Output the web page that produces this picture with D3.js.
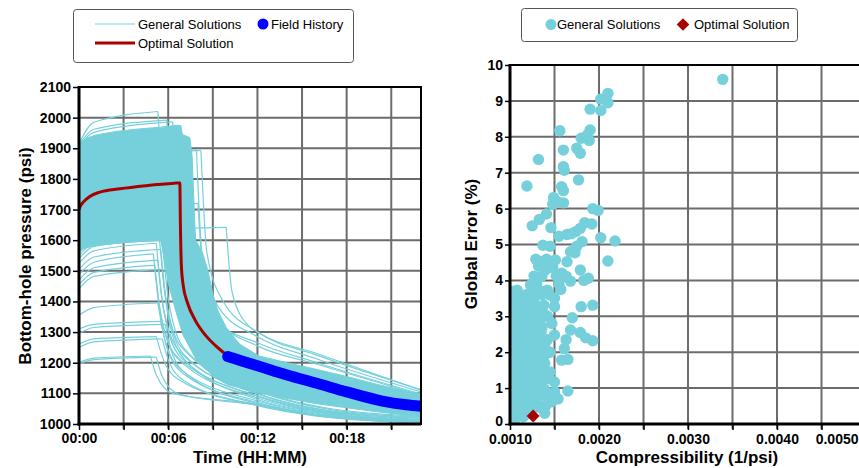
<!DOCTYPE html>
<html>
<head>
<meta charset="utf-8">
<script src="https://cdn.jsdelivr.net/npm/d3@7"></script>
<style>
body { margin: 0; background: #fff; }
svg { display: block; font-family: "Liberation Sans", Arial, sans-serif; }
</style>
</head>
<body>
<svg id="chart" width="859" height="468"></svg>
<script>
// ---------- left chart data (time in minutes, pressure in psi) ----------
var pressureTicks = [1000, 1100, 1200, 1300, 1400, 1500, 1600, 1700, 1800, 1900, 2000, 2100];
var timeTicks = [0, 6, 12, 18];

// outline of the dense bundle of general solutions
var massOutline = [
    [0, 1905], [0.15, 1920], [0.5, 1933], [1.2, 1944], [2.5, 1955], [4, 1963], [5.5, 1969],
    [6.6, 1975], [6.85, 1974], [6.95, 1945], [7.45, 1935], [7.6, 1880], [7.7, 1760],
    [7.8, 1640], [7.85, 1600], [8.3, 1560], [8.67, 1501], [9.0, 1425], [9.34, 1370],
    [9.9, 1315], [10.8, 1261], [12.1, 1222], [14, 1200], [16, 1178], [18, 1155],
    [20, 1130], [23, 1097], [23, 1024], [20, 1040], [16, 1066], [13.7, 1086], [12, 1103],
    [10, 1128], [9.2, 1150], [8, 1200], [7.0, 1290], [6.5, 1370], [6.0, 1460],
    [5.65, 1560], [5.5, 1600], [3, 1592], [1, 1582], [0.3, 1572], [0, 1560]
];

// single general solutions that stand out of the bundle
// p0, p(1 min), shut-in time, p at shut-in, p(+0.4 min), p(+1.5 min), p(12), p(16), p(23)
var generalRows = [
    [1915, 1985, 5.3, 2020, 1760, 1460, 1195, 1120, 1068],
    [1912, 1962, 5.9, 1992, 1730, 1440, 1190, 1115, 1065],
    [1908, 1952, 6.3, 1986, 1710, 1420, 1188, 1112, 1062],
    [1800, 1850, 8.2, 1893, 1560, 1400, 1300, 1225, 1112],
    [1790, 1842, 7.9, 1895, 1540, 1380, 1285, 1212, 1105],
    [1600, 1628, 9.9, 1642, 1430, 1320, 1300, 1230, 1110],
    [1700, 1742, 7.6, 1775, 1480, 1340, 1265, 1200, 1098],
    [1650, 1690, 8.0, 1720, 1470, 1330, 1255, 1195, 1094],
    [1550, 1590, 5.4, 1610, 1420, 1250, 1110, 1058, 1025],
    [1540, 1580, 5.6, 1600, 1410, 1245, 1108, 1055, 1022],
    [1525, 1565, 5.2, 1590, 1400, 1240, 1100, 1050, 1020],
    [1505, 1545, 5.5, 1570, 1390, 1230, 1098, 1048, 1018],
    [1488, 1528, 5.0, 1555, 1380, 1225, 1092, 1045, 1015],
    [1470, 1510, 5.3, 1535, 1370, 1220, 1090, 1042, 1013],
    [1455, 1495, 5.1, 1518, 1360, 1215, 1085, 1040, 1012],
    [1442, 1482, 5.6, 1505, 1350, 1210, 1080, 1038, 1010],
    [1355, 1380, 5.3, 1395, 1290, 1180, 1075, 1035, 1010],
    [1310, 1325, 5.5, 1335, 1250, 1165, 1070, 1032, 1008],
    [1295, 1315, 5.8, 1325, 1240, 1160, 1066, 1030, 1006],
    [1261, 1278, 5.2, 1285, 1220, 1145, 1062, 1028, 1005],
    [1250, 1268, 5.6, 1278, 1210, 1140, 1060, 1026, 1004],
    [1201, 1215, 4.8, 1222, 1160, 1100, 1065, 1030, 1005],
    [1196, 1210, 5.2, 1218, 1155, 1098, 1062, 1028, 1003]
];

var optimalT = [0, 0.1, 0.3, 0.7, 1.4, 2.75, 4.5, 6.4, 6.78, 6.82, 6.88, 7.0, 7.3, 7.8, 8.5, 9.2, 9.8, 10.0];
var optimalP = [1700, 1712, 1725, 1742, 1757, 1768, 1778, 1786, 1787, 1650, 1520, 1455, 1395, 1340, 1290, 1255, 1230, 1222];

var fieldT = [10, 11, 12, 13, 14, 16, 18, 20.4, 22, 23];
var fieldP = [1220, 1205, 1190, 1175, 1160, 1133, 1105, 1075, 1063, 1058];

// ---------- right chart data ----------
var errorTicks = [0, 1, 2, 3, 4, 5, 6, 7, 8, 9, 10];
var compTicks = [0.001, 0.002, 0.003, 0.004, 0.005];

var genC = [
    0.00339, 0.00210, 0.00202, 0.00210, 0.00190, 0.00202, 0.00156, 0.00190, 0.00187, 0.00180,
    0.00189, 0.00175, 0.00179, 0.00160, 0.00132, 0.00160, 0.00161, 0.00177, 0.00119, 0.00158,
    0.00160, 0.00149, 0.00153, 0.00160, 0.00148, 0.00193, 0.00199, 0.00141, 0.00133, 0.00125,
    0.00146, 0.00184, 0.00192, 0.00179, 0.00174, 0.00169, 0.00164, 0.00155, 0.00218, 0.00202,
    0.00181, 0.00175, 0.00137, 0.00145, 0.00168, 0.00173, 0.00210, 0.00129, 0.00134, 0.00141,
    0.00151, 0.00164, 0.00132, 0.00179, 0.00148, 0.00158, 0.00163, 0.00188, 0.00183, 0.00127,
    0.00136, 0.00152, 0.00168, 0.00157, 0.00108, 0.00123, 0.00132, 0.00142, 0.00150, 0.00111,
    0.00118, 0.00127, 0.00138, 0.00150, 0.00180, 0.00193, 0.00102, 0.00116, 0.00129, 0.00140,
    0.00170, 0.00104, 0.00113, 0.00124, 0.00135, 0.00150, 0.00168, 0.00179, 0.00185, 0.00193,
    0.00163, 0.00105, 0.00126, 0.00136, 0.00161, 0.00109, 0.00122, 0.00139, 0.00158, 0.00165,
    0.00102, 0.00113, 0.00128, 0.00139, 0.00108, 0.00121, 0.00132, 0.00143, 0.00150, 0.00102,
    0.00112, 0.00125, 0.00139, 0.00165, 0.00150, 0.00154, 0.00147, 0.00104, 0.00116, 0.00128,
    0.00104, 0.00122, 0.00118, 0.00132, 0.00101, 0.00101, 0.00101, 0.00103, 0.00106, 0.00110,
    0.00115, 0.00118, 0.00120, 0.00125, 0.00128, 0.00131, 0.00134, 0.00137, 0.00112, 0.00108,
    0.00122, 0.00145, 0.00147, 0.00145, 0.00115, 0.00106, 0.00125, 0.00135, 0.00140, 0.00144,
    0.00118, 0.00130, 0.00140, 0.00155, 0.00101,
    // dense cluster near the origin
    0.00103, 0.00103, 0.00103, 0.00103, 0.00103, 0.00103, 0.00103,
    0.00109, 0.00109, 0.00109, 0.00109, 0.00109, 0.00109,
    0.00114, 0.00114, 0.00114, 0.00114, 0.00114, 0.00114,
    0.00120, 0.00120, 0.00120, 0.00120, 0.00120, 0.00120,
    0.00126, 0.00126, 0.00126, 0.00126, 0.00126,
    0.00131, 0.00131, 0.00131, 0.00131,
    0.00136, 0.00136, 0.00136,
    0.00142, 0.00142, 0.00142,
    0.00101, 0.00101, 0.00101, 0.00101,
    0.00106, 0.00106, 0.00106, 0.00106,
    0.00111, 0.00111, 0.00111, 0.00111, 0.00111,
    0.00117, 0.00117, 0.00117, 0.00117, 0.00117,
    0.00123, 0.00123, 0.00123, 0.00123,
    0.00129, 0.00129, 0.00129,
    0.00134, 0.00134, 0.00134,
    0.00139, 0.00139, 0.00139
];
var genE = [
    9.60, 9.21, 9.05, 8.95, 8.77, 8.73, 8.17, 8.19, 8.05, 7.96,
    7.90, 7.68, 7.54, 7.63, 7.37, 7.17, 7.07, 6.80, 6.63, 6.61,
    6.50, 6.31, 6.20, 6.16, 6.12, 6.00, 5.95, 5.85, 5.70, 5.52,
    5.47, 5.61, 5.57, 5.45, 5.36, 5.30, 5.28, 5.23, 5.10, 5.19,
    5.08, 4.95, 4.98, 4.95, 4.80, 4.77, 4.54, 4.59, 4.52, 4.59,
    4.57, 4.52, 4.40, 4.29, 4.35, 4.20, 4.12, 4.06, 4.00, 4.12,
    4.12, 4.12, 3.98, 3.75, 3.73, 3.87, 3.73, 3.73, 3.50, 3.36,
    3.31, 3.40, 3.31, 3.27, 3.27, 3.31, 3.12, 3.03, 3.08, 3.03,
    2.96, 2.76, 2.67, 2.76, 2.57, 2.48, 2.62, 2.55, 2.40, 2.32,
    2.35, 2.30, 2.25, 2.20, 2.10, 1.92, 2.00, 1.92, 1.78, 1.80,
    1.64, 1.60, 1.64, 1.69, 1.30, 1.35, 1.40, 1.26, 1.17, 1.00,
    1.04, 0.96, 0.96, 0.92, 0.90, 0.70, 0.62, 0.62, 0.67, 0.71,
    0.43, 0.35, 0.28, 0.47, 0.50, 1.50, 2.40, 2.00, 1.00, 0.50,
    1.80, 1.30, 2.40, 1.70, 2.60, 1.10, 2.90, 1.60, 2.20, 2.90,
    3.20, 2.00, 2.80, 1.45, 0.20, 0.15, 0.60, 0.80, 0.50, 3.60,
    3.60, 3.90, 4.30, 3.90, 3.37,
    0.30, 0.80, 1.20, 1.80, 2.60, 3.00, 3.50,
    0.35, 0.75, 1.60, 2.10, 2.50, 3.10,
    0.45, 0.90, 1.40, 2.00, 2.45, 2.85,
    0.55, 1.10, 1.55, 1.85, 2.70, 3.50,
    0.45, 1.25, 2.00, 2.90, 3.60,
    0.80, 1.80, 2.45, 3.20,
    1.20, 2.70, 3.60,
    0.75, 2.35, 3.00,
    0.90, 1.90, 2.90, 3.70,
    0.55, 1.35, 2.30, 3.30,
    0.25, 1.20, 1.75, 2.60, 3.50,
    0.60, 1.00, 2.20, 2.90, 3.30,
    0.85, 1.45, 2.20, 2.50,
    1.50, 1.95, 2.85,
    0.50, 1.60, 2.10,
    0.30, 1.40, 2.20
];
var optimalC = [0.00126];
var optimalE = [0.22];

// ---------- drawing ----------
var cyan = "#76d0db", darkRed = "#a80000", blue = "#0000ff";
var svg = d3.select("#chart");

var L = {left: 79, right: 421, top: 87, bottom: 424};
var R = {left: 510, right: 866, top: 65, bottom: 424};

var xT = d3.scaleLinear().domain([0, 23]).range([L.left, L.right]);
var yP = d3.scaleLinear().domain([1000, 2100]).range([L.bottom, L.top]);
var xC = d3.scaleLinear().domain([0.001, 0.005]).range([R.left, R.right]);
var yE = d3.scaleLinear().domain([0, 10]).range([R.bottom, R.top]);

var defs = svg.append("defs");
defs.append("clipPath").attr("id", "clipL").append("rect")
    .attr("x", L.left).attr("y", L.top).attr("width", L.right - L.left).attr("height", L.bottom - L.top);
defs.append("clipPath").attr("id", "clipR").append("rect")
    .attr("x", R.left).attr("y", R.top).attr("width", R.right - R.left).attr("height", R.bottom - R.top);

function grid(g, xs, ys, xScale, yScale, box) {
    g.selectAll("line.v").data(xs).enter().append("line")
        .attr("x1", function(d) { return xScale(d); }).attr("x2", function(d) { return xScale(d); })
        .attr("y1", box.top).attr("y2", box.bottom + 5);
    g.selectAll("line.h").data(ys).enter().append("line")
        .attr("y1", function(d) { return yScale(d); }).attr("y2", function(d) { return yScale(d); })
        .attr("x1", box.left).attr("x2", box.right);
    g.selectAll("line").attr("stroke", "#6c6c6c").attr("stroke-width", 2);
}

grid(svg.append("g"), d3.range(3, 23, 3), d3.range(1100, 2100, 100), xT, yP, L);
grid(svg.append("g"), d3.range(0.0015, 0.0051, 0.0005), d3.range(1, 10, 1), xC, yE, R);

// ---- left plot ----
var plotL = svg.append("g").attr("clip-path", "url(#clipL)");
var lineTP = d3.line().x(function(d) { return xT(d[0]); }).y(function(d) { return yP(d[1]); });
var smooth = d3.line().x(function(d) { return xT(d[0]); }).y(function(d) { return yP(d[1]); })
    .curve(d3.curveMonotoneX);

plotL.append("path").datum(massOutline)
    .attr("d", lineTP.curve(d3.curveLinearClosed))
    .attr("fill", cyan).attr("stroke", cyan).attr("stroke-width", 1);

generalRows.forEach(function(r) {
    var build = [[0, r[0]], [1, r[1]], [r[2], r[3]]];
    var fall = [[r[2], r[3]], [r[2] + 0.4, r[4]], [r[2] + 1.5, r[5]], [12, r[6]], [16, r[7]], [23, r[8]]];
    [build, fall].forEach(function(pts) {
        plotL.append("path").datum(pts).attr("d", smooth)
            .attr("fill", "none").attr("stroke", cyan).attr("stroke-width", 1.2);
    });
});

var optPts = optimalT.map(function(t, i) { return [t, optimalP[i]]; });
plotL.append("path").datum(optPts).attr("d", smooth)
    .attr("fill", "none").attr("stroke", darkRed).attr("stroke-width", 3);

var fieldPts = fieldT.map(function(t, i) { return [t, fieldP[i]]; });
plotL.append("path").datum(fieldPts).attr("d", smooth)
    .attr("fill", "none").attr("stroke", blue).attr("stroke-width", 11)
    .attr("stroke-linecap", "round");

// ---- right plot ----
var plotR = svg.append("g").attr("clip-path", "url(#clipR)");
plotR.selectAll("circle.gen").data(genC).enter().append("circle")
    .attr("cx", function(d) { return xC(d); })
    .attr("cy", function(d, i) { return yE(genE[i]); })
    .attr("r", 5.7).attr("fill", cyan);

plotR.selectAll("path.opt").data(optimalC).enter().append("path")
    .attr("d", d3.symbol().type(d3.symbolSquare).size(85))
    .attr("transform", function(d, i) { return "translate(" + xC(d) + "," + yE(optimalE[i]) + ") rotate(45)"; })
    .attr("fill", darkRed);

// ---- frames and axes ----
function frame(box) {
    var f = svg.append("g").attr("stroke", "#000").attr("fill", "none");
    f.append("rect").attr("x", box.left).attr("y", box.top)
        .attr("width", box.right - box.left).attr("height", box.bottom - box.top).attr("stroke-width", 2);
    f.append("line").attr("x1", box.left).attr("x2", box.left).attr("y1", box.top - 1).attr("y2", box.bottom + 1.5)
        .attr("stroke-width", 3);
    f.append("line").attr("x1", box.left - 1.5).attr("x2", box.right).attr("y1", box.bottom).attr("y2", box.bottom)
        .attr("stroke-width", 3);
}
frame(L);
frame(R);

function styleAxis(g) {
    g.select(".domain").remove();
    g.selectAll(".tick line").attr("stroke", "#000").attr("stroke-width", 1.5);
    g.selectAll("text").attr("font-size", 14).attr("font-weight", "bold")
        .attr("font-family", "Liberation Sans, Arial, sans-serif").attr("fill", "#000");
}

svg.append("g").attr("transform", "translate(" + (L.left - 1) + ",0)")
    .call(d3.axisLeft(yP).tickValues(pressureTicks).tickSize(5).tickPadding(2).tickFormat(d3.format("d")))
    .call(styleAxis);

svg.append("g").attr("transform", "translate(0," + (L.bottom + 1) + ")")
    .call(d3.axisBottom(xT).tickValues(d3.range(0, 22, 3)).tickSize(5).tickPadding(3)
        .tickFormat(function(m) { return timeTicks.indexOf(m) >= 0 ? "00:" + d3.format("02d")(m) : ""; }))
    .call(styleAxis);

var ly = svg.append("g").attr("transform", "translate(" + (R.left - 1) + ",0)")
    .call(d3.axisLeft(yE).tickValues(errorTicks).tickSize(4).tickPadding(2).tickFormat(d3.format("d")))
    .call(styleAxis);
// keep the zero label clear of the first compressibility label
ly.selectAll(".tick text").filter(function(d) { return d === 0; }).attr("dy", "0.1em");

var bx = svg.append("g").attr("transform", "translate(0," + (R.bottom + 1) + ")")
    .call(d3.axisBottom(xC).tickValues(d3.range(0.001, 0.0051, 0.0005)).tickSize(5).tickPadding(4)
        .tickFormat(function(c) {
            var hit = compTicks.filter(function(v) { return Math.abs(v - c) < 1e-7; });
            return hit.length ? d3.format(".4f")(c) : "";
        }))
    .call(styleAxis);
// the last label does not fit the window, pull it inside like the original
bx.selectAll(".tick text").filter(function(d) { return Math.abs(d - 0.005) < 1e-7; })
    .attr("text-anchor", "end").attr("x", 858 - R.right);

// axis titles
function title(txt, x, y, rot) {
    svg.append("text").text(txt)
        .attr("transform", "translate(" + x + "," + y + ")" + (rot ? " rotate(-90)" : ""))
        .attr("text-anchor", "middle").attr("font-size", 17).attr("font-weight", "bold");
}
title("Time (HH:MM)", 250, 463, false);
title("Bottom-hole pressure (psi)", 31, 256, true);
title("Compressibility (1/psi)", 687, 463, false);
title("Global Error (%)", 477, 244, true);

// ---- legends ----
var legL = svg.append("g").attr("font-size", 13);
legL.append("rect").attr("x", 73.5).attr("y", 9.5).attr("width", 280).attr("height", 53).attr("rx", 3)
    .attr("fill", "#fff").attr("stroke", "#555");
legL.append("line").attr("x1", 95).attr("x2", 135).attr("y1", 24).attr("y2", 24)
    .attr("stroke", "#a6e2ea").attr("stroke-width", 1.5);
legL.append("text").attr("x", 138).attr("y", 28.5).text("General Solutions");
legL.append("circle").attr("cx", 263).attr("cy", 24).attr("r", 5.5).attr("fill", blue);
legL.append("text").attr("x", 271).attr("y", 28.5).text("Field History");
legL.append("line").attr("x1", 95).attr("x2", 135).attr("y1", 43).attr("y2", 43)
    .attr("stroke", darkRed).attr("stroke-width", 3);
legL.append("text").attr("x", 138).attr("y", 47.5).text("Optimal Solution");

var legR = svg.append("g").attr("font-size", 13);
legR.append("rect").attr("x", 521.5).attr("y", 8.5).attr("width", 276).attr("height", 33).attr("rx", 3)
    .attr("fill", "#fff").attr("stroke", "#555");
legR.append("circle").attr("cx", 551).attr("cy", 24.5).attr("r", 5.5).attr("fill", cyan);
legR.append("text").attr("x", 557).attr("y", 29).text("General Solutions");
legR.append("path").attr("d", d3.symbol().type(d3.symbolSquare).size(80))
    .attr("transform", "translate(683,24.5) rotate(45)").attr("fill", darkRed);
legR.append("text").attr("x", 694).attr("y", 29).text("Optimal Solution");
</script>
</body>
</html>
